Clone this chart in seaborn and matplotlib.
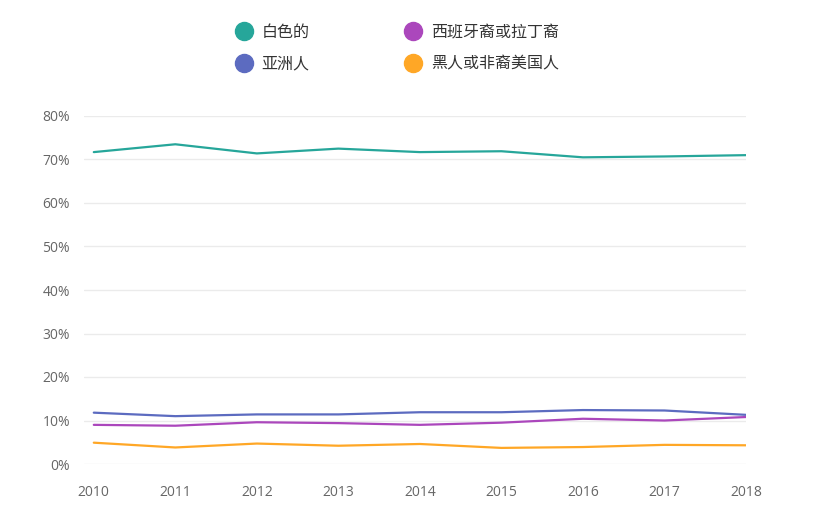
import pandas as pd
import numpy as np
import matplotlib.pyplot as plt
import seaborn as sns
from matplotlib.lines import Line2D
from matplotlib.ticker import FuncFormatter

years = [2010, 2011, 2012, 2013, 2014, 2015, 2016, 2017, 2018]
white = [71.7, 73.5, 71.4, 72.5, 71.7, 71.9, 70.5, 70.7, 71.0]
asian = [11.8, 11.0, 11.4, 11.4, 11.9, 11.9, 12.4, 12.3, 11.3]
hispanic = [9.0, 8.8, 9.6, 9.4, 9.0, 9.5, 10.4, 10.0, 10.8]
black = [4.9, 3.8, 4.7, 4.2, 4.6, 3.7, 3.9, 4.4, 4.3]

groups = ['白色的', '亚洲人', '西班牙裔或拉丁裔', '黑人或非裔美国人']
colors = ['#26a69a', '#5c6bc0', '#ab47bc', '#ffa726']

df = pd.DataFrame({
    'year': years * 4,
    'share': white + asian + hispanic + black,
    'group': np.repeat(groups, len(years)),
})

sns.set_style('white')
plt.rcParams['font.family'] = ['Open Sans', 'Noto Sans CJK SC', 'DejaVu Sans']

fig = plt.figure(figsize=(8.15, 5.19), dpi=100)
ax = fig.add_axes([84 / 815, 55 / 519, (746 - 84) / 815, 348 / 519])

sns.lineplot(data=df, x='year', y='share', hue='group', hue_order=groups,
             palette=colors, linewidth=1.6, ax=ax, legend=False)

ax.set_xlim(2009.88, 2018)
ax.set_ylim(0, 80)
ax.set_yticks(range(0, 81, 10))
ax.yaxis.set_major_formatter(FuncFormatter(lambda v, p: f'{int(v)}%'))
ax.set_xticks(years)
ax.grid(axis='y', color='#ebebeb', linewidth=1)
ax.grid(axis='x', visible=False)
for s in ax.spines.values():
    s.set_visible(False)
ax.tick_params(axis='both', length=0, colors='#666666', labelsize=10)
ax.tick_params(axis='y', pad=10)
ax.tick_params(axis='x', pad=15)
ax.set_xlabel('')
ax.set_ylabel('')

handles = [Line2D([], [], linestyle='none', marker='o', markersize=13,
                  markerfacecolor=c, markeredgecolor=c) for c in colors]
leg = fig.legend(handles, groups, ncol=2, loc='upper left',
                 bbox_to_anchor=(236 / 815, 1 - 24 / 519), frameon=False,
                 prop={'family': ['Noto Sans CJK SC', 'DejaVu Sans'], 'size': 11.5},
                 handlelength=1.0, handletextpad=0.6, columnspacing=6.0,
                 labelspacing=0.9, borderaxespad=0, borderpad=0)
for t in leg.get_texts():
    t.set_color('#333333')

fig.savefig('out.png', dpi=100)
